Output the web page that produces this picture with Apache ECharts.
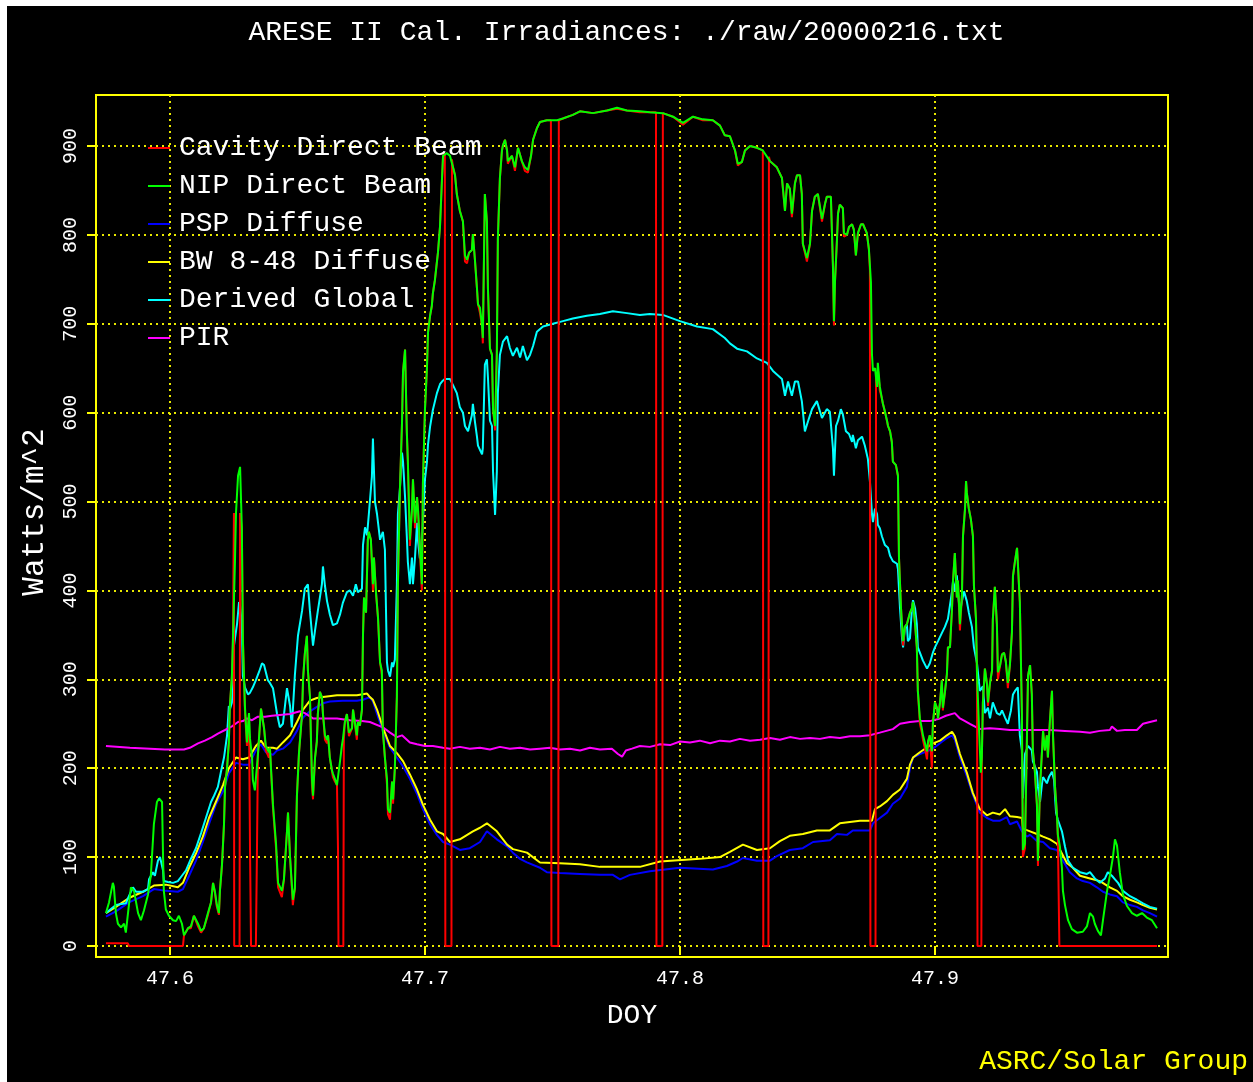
<!DOCTYPE html>
<html>
<head>
<meta charset="utf-8">
<title>ARESE II Cal. Irradiances</title>
<script src="https://cdn.jsdelivr.net/npm/echarts@6/dist/echarts.min.js"></script>
<style>
  html, body { margin: 0; padding: 0; background: #000; }
  #chart { width: 1253px; height: 1082px; }
</style>
</head>
<body>
<div id="chart"></div>
<script>
// Day-of-year tick marks and irradiance ticks (W/m^2)
const doyTicks = [47.6, 47.7, 47.8, 47.9];
const wattTicks = [0, 100, 200, 300, 400, 500, 600, 700, 800, 900];

const seriesNames = ['Cavity Direct Beam', 'NIP Direct Beam', 'PSP Diffuse', 'BW 8-48 Diffuse', 'Derived Global', 'PIR'];
const seriesColors = ['#ff0000', '#00ff00', '#0000ff', '#ffff00', '#00ffff', '#ff00ff'];

// [DOY, W/m^2]
const nipDirect = [
[47.5749,37],[47.5761,49],[47.5776,71],[47.5780,67],[47.5788,37],[47.5796,25],[47.5808,21],[47.5820,25],[47.5827,15],[47.5839,46],
[47.5847,66],[47.5859,62],[47.5875,37],[47.5886,29],[47.5898,40],[47.5914,58],[47.5925,79],[47.5937,137],[47.5949,162],[47.5957,166],
[47.5969,162],[47.5973,100],[47.5976,62],[47.5984,41],[47.5996,34],[47.6012,29],[47.6024,28],[47.6035,34],[47.6047,25],[47.6055,12],
[47.6071,20],[47.6082,22],[47.6094,34],[47.6110,25],[47.6122,17],[47.6133,20],[47.6149,37],[47.6161,49],[47.6169,71],[47.6176,62],
[47.6184,46],[47.6192,37],[47.6196,62],[47.6204,91],[47.6212,137],[47.6216,179],[47.6224,200],[47.6231,229],[47.6235,270],[47.6243,304],
[47.6247,345],[47.6255,433],[47.6259,487],[47.6267,529],[47.6275,539],[47.6282,470],[47.6286,345],[47.6294,270],[47.6302,229],[47.6310,262],
[47.6314,233],[47.6322,212],[47.6325,187],[47.6333,175],[47.6345,215],[47.6357,267],[47.6369,245],[47.6376,225],[47.6388,218],[47.6392,223],
[47.6404,159],[47.6416,115],[47.6424,71],[47.6439,62],[47.6447,75],[47.6459,129],[47.6463,150],[47.6471,100],[47.6482,52],[47.6490,65],
[47.6498,169],[47.6506,217],[47.6518,261],[47.6522,300],[47.6529,329],[47.6537,349],[47.6541,310],[47.6549,281],[47.6557,188],[47.6561,169],
[47.6569,212],[47.6576,230],[47.6580,261],[47.6588,286],[47.6596,280],[47.6600,261],[47.6608,237],[47.6616,232],[47.6620,237],[47.6627,212],
[47.6635,198],[47.6639,194],[47.6647,188],[47.6655,181],[47.6659,190],[47.6667,208],[47.6675,227],[47.6678,232],[47.6686,252],[47.6694,261],
[47.6702,240],[47.6714,245],[47.6718,266],[47.6725,252],[47.6733,237],[47.6737,252],[47.6745,248],[47.6753,266],[47.6757,349],[47.6761,392],
[47.6769,375],[47.6776,457],[47.6780,466],[47.6788,457],[47.6796,407],[47.6800,437],[47.6808,398],[47.6816,369],[47.6824,319],[47.6831,310],
[47.6835,242],[47.6843,212],[47.6851,188],[47.6855,154],[47.6863,150],[47.6871,185],[47.6875,165],[47.6882,200],[47.6890,281],[47.6894,407],
[47.6902,515],[47.6910,588],[47.6914,646],[47.6922,671],[47.6929,578],[47.6933,545],[47.6941,457],[47.6949,490],[47.6953,525],[47.6961,476],
[47.6969,505],[47.6973,490],[47.6980,451],[47.6988,407],[47.6992,520],[47.7000,603],[47.7008,651],[47.7012,690],[47.7020,709],[47.7027,720],
[47.7031,734],[47.7039,749],[47.7051,780],[47.7059,809],[47.7067,864],[47.7071,889],[47.7086,892],[47.7098,889],[47.7110,876],[47.7118,867],
[47.7125,846],[47.7137,827],[47.7149,815],[47.7157,777],[47.7165,772],[47.7173,780],[47.7184,783],[47.7188,801],[47.7196,772],[47.7204,740],
[47.7208,722],[47.7216,718],[47.7224,697],[47.7227,684],[47.7235,846],[47.7243,815],[47.7247,740],[47.7255,672],[47.7263,665],[47.7267,604],
[47.7275,585],[47.7282,667],[47.7286,796],[47.7294,864],[47.7302,895],[47.7306,901],[47.7314,907],[47.7322,895],[47.7325,883],[47.7341,889],
[47.7353,876],[47.7365,898],[47.7380,883],[47.7392,876],[47.7404,873],[47.7416,889],[47.7424,907],[47.7439,920],[47.7451,927],[47.7478,929],
[47.7518,929],[47.7541,931],[47.7580,935],[47.7608,939],[47.7659,937],[47.7714,940],[47.7753,943],[47.7792,940],[47.7843,939],[47.7882,938],
[47.7933,937],[47.7973,933],[47.8012,926],[47.8051,933],[47.8090,930],[47.8129,929],[47.8157,923],[47.8176,912],[47.8196,911],[47.8216,895],
[47.8227,880],[47.8243,882],[47.8255,895],[47.8275,900],[47.8302,898],[47.8325,895],[47.8353,883],[47.8380,876],[47.8400,864],[47.8412,827],
[47.8420,858],[47.8431,852],[47.8439,824],[47.8451,858],[47.8459,867],[47.8471,867],[47.8478,846],[47.8482,790],[47.8498,774],[47.8510,790],
[47.8518,827],[47.8529,843],[47.8541,846],[47.8557,818],[47.8569,835],[47.8576,843],[47.8592,843],[47.8600,765],[47.8604,703],[47.8608,747],
[47.8616,796],[47.8620,824],[47.8627,834],[47.8639,830],[47.8643,802],[47.8655,800],[47.8663,809],[47.8675,812],[47.8682,806],[47.8690,777],
[47.8698,802],[47.8710,812],[47.8718,812],[47.8733,802],[47.8741,784],[47.8749,747],[47.8753,666],[47.8757,647],[47.8765,650],[47.8773,629],
[47.8776,656],[47.8784,629],[47.8792,616],[47.8796,610],[47.8804,601],[47.8812,591],[47.8816,585],[47.8824,579],[47.8831,567],[47.8835,545],
[47.8847,541],[47.8855,529],[47.8859,437],[47.8867,380],[47.8875,343],[47.8882,359],[47.8890,362],[47.8902,375],[47.8910,380],[47.8914,387],
[47.8922,362],[47.8929,336],[47.8933,287],[47.8941,256],[47.8949,244],[47.8953,237],[47.8961,228],[47.8969,219],[47.8973,230],[47.8980,237],
[47.8988,219],[47.8992,250],[47.9000,274],[47.9008,268],[47.9012,256],[47.9020,274],[47.9027,299],[47.9031,268],[47.9039,285],[47.9047,306],
[47.9051,336],[47.9059,336],[47.9067,380],[47.9071,411],[47.9078,442],[47.9086,392],[47.9090,411],[47.9098,362],[47.9106,395],[47.9110,461],
[47.9118,492],[47.9122,523],[47.9125,510],[47.9133,492],[47.9141,480],[47.9149,461],[47.9153,405],[47.9161,368],[47.9165,306],[47.9173,244],
[47.9180,195],[47.9184,212],[47.9188,274],[47.9196,312],[47.9204,295],[47.9208,274],[47.9216,296],[47.9224,310],[47.9227,367],[47.9235,404],
[47.9243,362],[47.9247,308],[47.9255,315],[47.9263,328],[47.9271,330],[47.9278,320],[47.9286,296],[47.9294,316],[47.9302,353],[47.9306,416],
[47.9314,433],[47.9322,448],[47.9325,448],[47.9333,387],[47.9341,262],[47.9345,108],[47.9353,115],[47.9361,237],[47.9365,304],[47.9373,316],
[47.9380,283],[47.9384,220],[47.9392,196],[47.9400,159],[47.9404,96],[47.9412,179],[47.9420,220],[47.9424,242],[47.9431,220],[47.9439,237],
[47.9443,212],[47.9451,254],[47.9459,287],[47.9463,237],[47.9471,179],[47.9478,150],[47.9482,125],[47.9490,112],[47.9498,88],[47.9502,62],
[47.9510,46],[47.9522,29],[47.9537,19],[47.9557,15],[47.9580,16],[47.9596,22],[47.9608,37],[47.9620,33],[47.9627,25],[47.9639,17],
[47.9651,12],[47.9659,29],[47.9675,62],[47.9686,79],[47.9698,100],[47.9706,120],[47.9714,113],[47.9725,83],[47.9737,58],[47.9753,45],
[47.9773,37],[47.9792,34],[47.9812,37],[47.9831,32],[47.9851,29],[47.9871,20]
];

const cavityDirect = [
[47.5749,3],[47.5835,3],[47.5839,0],[47.6051,0],[47.6055,12],
[47.6071,20],[47.6082,20],[47.6094,34],[47.6110,22],[47.6122,15],[47.6133,20],[47.6149,35],[47.6161,49],[47.6169,71],[47.6176,60],
[47.6184,44],[47.6192,35],[47.6196,62],[47.6204,91],[47.6212,137],[47.6216,179],[47.6224,200],[47.6231,229],[47.6235,270],[47.6243,304],
[47.6247,345],[47.6251,487],[47.6252,0],[47.6273,0],[47.6275,487],[47.6282,470],[47.6286,345],[47.6294,265],[47.6302,225],[47.6310,262],
[47.6314,108],[47.6318,0],[47.6337,0],[47.6341,100],[47.6345,215],[47.6357,267],[47.6369,245],[47.6376,220],[47.6388,212],[47.6392,223],
[47.6404,155],[47.6416,110],[47.6424,66],[47.6439,55],[47.6447,75],[47.6459,129],[47.6463,150],[47.6471,100],[47.6482,46],[47.6490,65],
[47.6498,169],[47.6506,217],[47.6518,261],[47.6522,300],[47.6529,329],[47.6537,349],[47.6541,310],[47.6549,281],[47.6557,180],[47.6561,165],
[47.6569,212],[47.6576,230],[47.6580,261],[47.6588,286],[47.6596,280],[47.6600,261],[47.6608,232],[47.6616,228],[47.6620,237],[47.6627,212],
[47.6635,198],[47.6639,190],[47.6647,185],[47.6655,181],[47.6659,110],[47.6661,0],[47.6680,0],[47.6682,232],[47.6686,252],[47.6694,261],
[47.6702,236],[47.6714,245],[47.6718,266],[47.6725,250],[47.6733,232],[47.6737,252],[47.6745,248],[47.6753,266],[47.6757,349],[47.6761,392],
[47.6769,375],[47.6776,457],[47.6780,466],[47.6788,457],[47.6796,400],[47.6800,437],[47.6808,398],[47.6816,369],[47.6824,319],[47.6831,305],
[47.6835,242],[47.6843,212],[47.6851,182],[47.6855,148],[47.6863,142],[47.6871,185],[47.6875,160],[47.6882,200],[47.6890,281],[47.6894,407],
[47.6902,515],[47.6910,588],[47.6914,646],[47.6922,671],[47.6929,578],[47.6933,545],[47.6941,450],[47.6949,490],[47.6953,525],[47.6961,470],
[47.6969,505],[47.6973,490],[47.6980,445],[47.6988,400],[47.6992,520],[47.7000,603],[47.7008,651],[47.7012,690],[47.7020,709],[47.7027,720],
[47.7031,734],[47.7039,749],[47.7051,780],[47.7059,809],[47.7067,864],[47.7071,889],[47.7078,892],[47.7080,0],[47.7104,0],[47.7106,885],
[47.7110,876],[47.7118,867],[47.7125,846],[47.7137,827],[47.7149,815],[47.7157,770],[47.7165,768],[47.7173,780],[47.7184,783],[47.7188,801],
[47.7196,772],[47.7204,740],[47.7208,722],[47.7216,712],[47.7224,697],[47.7227,678],[47.7235,846],[47.7243,815],[47.7247,740],[47.7255,672],
[47.7263,665],[47.7267,604],[47.7275,580],[47.7282,667],[47.7286,796],[47.7294,864],[47.7302,895],[47.7306,901],[47.7314,907],[47.7322,895],
[47.7325,880],[47.7341,889],[47.7353,872],[47.7365,898],[47.7380,883],[47.7392,872],[47.7404,870],[47.7416,889],[47.7424,907],[47.7439,920],
[47.7451,927],[47.7478,929],[47.7494,929],[47.7496,0],[47.7523,0],[47.7525,929],[47.7541,931],[47.7580,935],[47.7608,939],[47.7659,937],
[47.7714,940],[47.7753,942],[47.7792,940],[47.7843,938],[47.7882,938],[47.7906,938],[47.7908,0],[47.7931,0],[47.7933,937],[47.7973,933],
[47.8012,924],[47.8051,933],[47.8090,929],[47.8129,929],[47.8157,923],[47.8176,912],[47.8196,911],[47.8216,895],[47.8227,878],[47.8243,882],
[47.8255,895],[47.8275,900],[47.8302,898],[47.8325,895],[47.8327,0],[47.8347,0],[47.8349,888],[47.8353,883],[47.8380,876],[47.8400,864],
[47.8412,827],[47.8420,858],[47.8431,852],[47.8439,820],[47.8451,858],[47.8459,867],[47.8471,867],[47.8478,846],[47.8482,790],[47.8498,770],
[47.8510,790],[47.8518,827],[47.8529,843],[47.8541,846],[47.8557,815],[47.8569,835],[47.8576,843],[47.8592,843],[47.8600,765],[47.8604,698],
[47.8608,747],[47.8616,796],[47.8620,824],[47.8627,834],[47.8639,830],[47.8643,798],[47.8655,800],[47.8663,809],[47.8675,812],[47.8682,806],
[47.8690,777],[47.8698,802],[47.8710,812],[47.8718,812],[47.8733,802],[47.8741,784],[47.8745,760],[47.8747,0],[47.8767,0],[47.8769,640],
[47.8773,629],[47.8776,650],[47.8784,625],[47.8792,616],[47.8796,610],[47.8804,601],[47.8812,591],[47.8816,585],[47.8824,579],[47.8831,567],
[47.8835,545],[47.8847,541],[47.8855,529],[47.8859,437],[47.8867,380],[47.8875,338],[47.8882,359],[47.8890,362],[47.8902,375],[47.8910,380],
[47.8914,387],[47.8922,362],[47.8929,336],[47.8933,287],[47.8941,250],[47.8949,240],[47.8953,232],[47.8961,222],[47.8969,210],[47.8973,230],
[47.8980,237],[47.8988,200],[47.8992,250],[47.9000,274],[47.9008,268],[47.9012,256],[47.9020,274],[47.9027,299],[47.9031,265],[47.9039,285],
[47.9047,306],[47.9051,336],[47.9059,336],[47.9067,380],[47.9071,411],[47.9078,442],[47.9086,392],[47.9090,411],[47.9098,355],[47.9106,395],
[47.9110,461],[47.9118,492],[47.9122,523],[47.9125,510],[47.9133,492],[47.9141,480],[47.9149,461],[47.9153,405],[47.9161,368],[47.9165,306],
[47.9167,0],[47.9182,0],[47.9184,212],[47.9188,274],[47.9196,312],[47.9204,295],[47.9208,270],[47.9216,296],[47.9224,310],[47.9227,367],
[47.9235,404],[47.9243,362],[47.9247,300],[47.9255,315],[47.9263,328],[47.9271,330],[47.9278,320],[47.9286,290],[47.9294,316],[47.9302,353],
[47.9306,416],[47.9314,433],[47.9322,448],[47.9325,448],[47.9333,387],[47.9341,262],[47.9345,100],[47.9353,110],[47.9361,237],[47.9365,304],
[47.9373,316],[47.9380,283],[47.9384,220],[47.9392,196],[47.9400,159],[47.9404,90],[47.9412,179],[47.9420,220],[47.9424,242],[47.9431,220],
[47.9439,237],[47.9443,212],[47.9451,254],[47.9459,287],[47.9463,237],[47.9471,179],[47.9478,150],[47.9482,125],[47.9488,0],[47.9871,0]
];

const pspDiffuse = [
[47.5749,33],[47.5788,39],[47.5839,49],[47.5894,56],[47.5937,64],[47.5984,62],[47.6031,61],[47.6051,64],[47.6075,79],[47.6102,96],
[47.6129,117],[47.6153,137],[47.6180,159],[47.6208,174],[47.6231,194],[47.6259,206],[47.6286,204],[47.6310,204],[47.6337,220],[47.6357,227],
[47.6376,218],[47.6404,215],[47.6420,220],[47.6443,222],[47.6471,229],[47.6498,242],[47.6522,257],[47.6549,264],[47.6576,269],[47.6600,273],
[47.6627,275],[47.6678,276],[47.6733,276],[47.6757,277],[47.6784,280],[47.6796,275],[47.6812,261],[47.6835,242],[47.6863,223],[47.6890,212],
[47.6914,202],[47.6941,188],[47.6969,171],[47.6992,154],[47.7020,137],[47.7047,125],[47.7071,117],[47.7098,114],[47.7137,108],[47.7176,110],
[47.7216,117],[47.7243,129],[47.7282,120],[47.7322,112],[47.7345,105],[47.7373,98],[47.7400,94],[47.7451,88],[47.7478,83],[47.7529,82],
[47.7608,81],[47.7686,80],[47.7737,80],[47.7765,75],[47.7804,80],[47.7882,84],[47.8000,88],[47.8129,86],[47.8184,90],[47.8224,95],
[47.8247,99],[47.8302,96],[47.8353,96],[47.8380,101],[47.8431,108],[47.8482,110],[47.8522,117],[47.8588,119],[47.8616,126],[47.8655,125],
[47.8678,130],[47.8745,130],[47.8757,138],[47.8784,144],[47.8812,150],[47.8835,160],[47.8863,166],[47.8890,179],[47.8902,200],[47.8914,212],
[47.8941,216],[47.8969,219],[47.8992,222],[47.9020,228],[47.9047,234],[47.9067,237],[47.9078,232],[47.9098,212],[47.9125,191],[47.9149,170],
[47.9176,150],[47.9204,144],[47.9227,141],[47.9255,141],[47.9282,145],[47.9294,137],[47.9322,140],[47.9341,129],[47.9361,123],[47.9373,125],
[47.9400,118],[47.9424,117],[47.9451,110],[47.9478,108],[47.9502,96],[47.9529,83],[47.9557,76],[47.9580,73],[47.9608,71],[47.9635,66],
[47.9659,61],[47.9686,58],[47.9714,56],[47.9737,49],[47.9765,46],[47.9792,44],[47.9816,40],[47.9843,37],[47.9871,33]
];

const bwDiffuse = [
[47.5749,37],[47.5788,44],[47.5839,54],[47.5894,61],[47.5937,68],[47.5984,69],[47.6031,66],[47.6051,71],[47.6075,88],[47.6102,104],
[47.6129,123],[47.6153,144],[47.6180,162],[47.6208,181],[47.6231,200],[47.6259,212],[47.6286,210],[47.6310,212],[47.6337,225],[47.6357,231],
[47.6376,223],[47.6404,223],[47.6420,222],[47.6443,229],[47.6471,237],[47.6498,252],[47.6522,266],[47.6549,276],[47.6576,279],[47.6600,280],
[47.6655,282],[47.6694,282],[47.6733,282],[47.6773,284],[47.6784,280],[47.6796,277],[47.6812,266],[47.6835,246],[47.6863,225],[47.6890,217],
[47.6914,208],[47.6941,193],[47.6969,176],[47.6992,159],[47.7020,142],[47.7047,129],[47.7071,126],[47.7098,117],[47.7137,120],[47.7188,129],
[47.7216,133],[47.7243,138],[47.7282,129],[47.7322,114],[47.7345,109],[47.7400,105],[47.7451,94],[47.7529,93],[47.7608,92],[47.7686,89],
[47.7843,89],[47.7922,95],[47.8078,98],[47.8157,100],[47.8196,106],[47.8247,114],[47.8302,108],[47.8353,110],[47.8392,118],[47.8431,124],
[47.8482,126],[47.8537,130],[47.8588,130],[47.8627,138],[47.8706,141],[47.8753,141],[47.8765,154],[47.8784,157],[47.8812,163],[47.8835,170],
[47.8863,176],[47.8890,188],[47.8902,204],[47.8914,212],[47.8941,218],[47.8992,228],[47.9020,231],[47.9047,237],[47.9067,241],[47.9078,236],
[47.9098,216],[47.9125,195],[47.9149,172],[47.9176,154],[47.9204,147],[47.9227,150],[47.9255,148],[47.9275,154],[47.9294,146],[47.9322,145],
[47.9341,144],[47.9345,132],[47.9373,129],[47.9400,126],[47.9424,123],[47.9451,120],[47.9478,115],[47.9498,104],[47.9518,93],[47.9541,88],
[47.9569,79],[47.9608,76],[47.9647,73],[47.9686,66],[47.9714,62],[47.9737,56],[47.9765,52],[47.9792,49],[47.9816,46],[47.9843,43],
[47.9871,41]
];

const derivedGlobal = [
[47.5749,37],[47.5788,46],[47.5827,48],[47.5839,56],[47.5855,66],[47.5867,61],[47.5894,61],[47.5914,64],[47.5918,75],[47.5933,83],
[47.5941,79],[47.5953,96],[47.5961,100],[47.5973,85],[47.5976,73],[47.5992,72],[47.6012,71],[47.6031,73],[47.6047,79],[47.6063,85],
[47.6082,98],[47.6102,110],[47.6122,127],[47.6141,144],[47.6161,162],[47.6173,169],[47.6188,179],[47.6200,196],[47.6212,212],[47.6224,237],
[47.6231,270],[47.6235,266],[47.6243,274],[47.6251,338],[47.6263,362],[47.6271,387],[47.6275,383],[47.6282,362],[47.6286,304],[47.6294,291],
[47.6306,283],[47.6314,285],[47.6325,291],[47.6337,299],[47.6349,308],[47.6361,318],[47.6369,316],[47.6384,299],[47.6392,296],[47.6404,290],
[47.6420,261],[47.6431,246],[47.6443,250],[47.6459,290],[47.6471,270],[47.6478,246],[47.6490,305],[47.6502,349],[47.6518,377],[47.6529,402],
[47.6541,407],[47.6549,377],[47.6561,338],[47.6569,355],[47.6580,377],[47.6596,407],[47.6600,427],[47.6608,405],[47.6616,388],[47.6627,373],
[47.6639,361],[47.6655,363],[47.6667,373],[47.6678,386],[47.6694,398],[47.6706,400],[47.6718,394],[47.6729,407],[47.6737,398],[47.6753,402],
[47.6757,451],[47.6765,471],[47.6773,462],[47.6780,486],[47.6792,528],[47.6796,571],[47.6804,500],[47.6812,486],[47.6824,457],[47.6835,466],
[47.6843,446],[47.6851,319],[47.6855,310],[47.6863,303],[47.6871,319],[47.6875,314],[47.6882,322],[47.6890,407],[47.6894,486],[47.6902,515],
[47.6910,555],[47.6914,545],[47.6922,505],[47.6929,460],[47.6933,432],[47.6941,407],[47.6949,437],[47.6953,407],[47.6961,437],[47.6969,476],
[47.6973,455],[47.6980,436],[47.6988,458],[47.6992,476],[47.7000,525],[47.7008,545],[47.7012,564],[47.7020,584],[47.7031,603],[47.7047,622],
[47.7059,632],[47.7067,635],[47.7078,638],[47.7098,638],[47.7110,631],[47.7125,622],[47.7137,606],[47.7149,600],[47.7157,585],[47.7169,579],
[47.7184,597],[47.7188,610],[47.7196,590],[47.7204,573],[47.7208,563],[47.7224,553],[47.7227,560],[47.7235,654],[47.7243,660],[47.7247,640],
[47.7255,591],[47.7263,585],[47.7267,534],[47.7275,485],[47.7282,534],[47.7286,622],[47.7294,665],[47.7306,680],[47.7322,686],[47.7333,673],
[47.7345,664],[47.7361,673],[47.7373,662],[47.7384,675],[47.7400,659],[47.7412,665],[47.7424,675],[47.7439,691],[47.7463,697],[47.7502,700],
[47.7541,703],[47.7580,706],[47.7635,709],[47.7686,711],[47.7737,714],[47.7792,712],[47.7843,710],[47.7882,711],[47.7933,710],[47.8000,703],
[47.8067,697],[47.8129,694],[47.8176,684],[47.8196,678],[47.8224,672],[47.8263,669],[47.8302,661],[47.8341,656],[47.8365,647],[47.8400,638],
[47.8412,619],[47.8424,635],[47.8439,619],[47.8451,635],[47.8463,635],[47.8478,613],[47.8490,579],[47.8502,590],[47.8518,604],[47.8537,613],
[47.8557,594],[47.8576,604],[47.8588,601],[47.8600,560],[47.8604,529],[47.8612,585],[47.8620,591],[47.8631,604],[47.8639,598],[47.8651,579],
[47.8663,576],[47.8675,567],[47.8678,575],[47.8690,560],[47.8698,569],[47.8714,573],[47.8725,563],[47.8737,548],[47.8745,523],[47.8753,486],
[47.8757,477],[47.8765,492],[47.8773,486],[47.8776,474],[47.8784,470],[47.8792,461],[47.8804,451],[47.8816,448],[47.8824,439],[47.8835,433],
[47.8851,430],[47.8855,424],[47.8863,380],[47.8871,346],[47.8875,336],[47.8882,357],[47.8890,362],[47.8894,343],[47.8902,346],[47.8910,380],
[47.8914,389],[47.8922,380],[47.8929,362],[47.8933,336],[47.8941,330],[47.8953,321],[47.8969,312],[47.8980,318],[47.8992,330],[47.9000,336],
[47.9012,343],[47.9027,352],[47.9039,359],[47.9051,368],[47.9067,399],[47.9071,411],[47.9078,399],[47.9086,417],[47.9090,399],[47.9098,375],
[47.9106,388],[47.9114,399],[47.9125,388],[47.9133,375],[47.9145,359],[47.9153,336],[47.9165,318],[47.9176,287],[47.9188,292],[47.9196,262],
[47.9208,268],[47.9216,256],[47.9227,274],[47.9243,262],[47.9255,260],[47.9263,265],[47.9275,257],[47.9286,250],[47.9298,265],[47.9306,283],
[47.9314,287],[47.9325,291],[47.9333,237],[47.9341,220],[47.9345,166],[47.9353,216],[47.9365,225],[47.9380,220],[47.9384,208],[47.9400,196],
[47.9404,179],[47.9412,162],[47.9420,183],[47.9424,190],[47.9439,183],[47.9447,190],[47.9459,196],[47.9467,187],[47.9475,150],[47.9482,142],
[47.9498,129],[47.9510,112],[47.9522,96],[47.9541,88],[47.9569,83],[47.9596,81],[47.9608,83],[47.9627,76],[47.9647,71],[47.9667,76],
[47.9678,83],[47.9694,79],[47.9706,75],[47.9718,71],[47.9737,62],[47.9765,56],[47.9792,52],[47.9816,48],[47.9843,44],[47.9871,42]
];

const pir = [
[47.5749,225],[47.5843,223],[47.5922,222],[47.5980,221],[47.6055,221],[47.6078,223],[47.6110,228],[47.6137,231],[47.6165,235],[47.6188,239],
[47.6216,243],[47.6243,247],[47.6267,252],[47.6286,253],[47.6302,256],[47.6322,254],[47.6345,258],[47.6373,258],[47.6400,259],[47.6471,261],
[47.6510,264],[47.6529,262],[47.6561,256],[47.6600,256],[47.6655,256],[47.6706,254],[47.6753,253],[47.6784,252],[47.6835,246],[47.6863,240],
[47.6890,235],[47.6910,237],[47.6941,229],[47.6969,227],[47.7000,225],[47.7031,225],[47.7071,223],[47.7098,222],[47.7137,224],[47.7176,222],
[47.7216,223],[47.7255,221],[47.7294,224],[47.7333,222],[47.7373,223],[47.7412,221],[47.7451,222],[47.7490,223],[47.7529,221],[47.7569,222],
[47.7608,220],[47.7647,223],[47.7686,221],[47.7733,222],[47.7757,216],[47.7773,213],[47.7788,220],[47.7812,222],[47.7843,225],[47.7882,224],
[47.7922,227],[47.7961,226],[47.8000,230],[47.8039,229],[47.8078,231],[47.8118,228],[47.8157,231],[47.8196,230],[47.8235,233],[47.8275,231],
[47.8314,232],[47.8353,234],[47.8392,232],[47.8431,235],[47.8471,233],[47.8510,234],[47.8549,233],[47.8588,235],[47.8627,234],[47.8667,236],
[47.8706,236],[47.8745,237],[47.8784,240],[47.8835,244],[47.8863,250],[47.8902,252],[47.8941,253],[47.8980,253],[47.9020,256],[47.9043,259],
[47.9078,262],[47.9098,256],[47.9118,253],[47.9137,250],[47.9176,244],[47.9216,245],[47.9255,244],[47.9294,243],[47.9333,243],[47.9373,243],
[47.9412,243],[47.9451,243],[47.9510,242],[47.9569,241],[47.9608,240],[47.9647,242],[47.9686,243],[47.9694,247],[47.9714,242],[47.9745,243],
[47.9792,243],[47.9816,250],[47.9843,252],[47.9871,254]
];

const FONT = '"Liberation Mono", "DejaVu Sans Mono", monospace';
const YELLOW = '#ffff00';
const GRID_DOT = '#e8e800';

const dataByName = {
  'Cavity Direct Beam': cavityDirect,
  'NIP Direct Beam': nipDirect,
  'PSP Diffuse': pspDiffuse,
  'BW 8-48 Diffuse': bwDiffuse,
  'Derived Global': derivedGlobal,
  'PIR': pir
};

// draw order: diffuse and global first, the two direct-beam traces on top
const drawOrder = ['PSP Diffuse', 'BW 8-48 Diffuse', 'Derived Global', 'PIR', 'Cavity Direct Beam', 'NIP Direct Beam'];

const series = drawOrder.map(function (name) {
  const color = seriesColors[seriesNames.indexOf(name)];
  return {
    name: name,
    type: 'line',
    data: dataByName[name],
    showSymbol: false,
    symbol: 'none',
    color: color,
    lineStyle: { color: color, width: 2 },
    emphasis: { disabled: true },
    animation: false
  };
});

const chart = echarts.init(document.getElementById('chart'), null, { renderer: 'canvas' });

chart.setOption({
  backgroundColor: '#000000',
  animation: false,
  textStyle: { fontFamily: FONT },
  title: [
    {
      text: 'ARESE II Cal. Irradiances: ./raw/20000216.txt',
      left: 'center',
      top: 14,
      textStyle: { color: '#ffffff', fontFamily: FONT, fontSize: 28, fontWeight: 'normal' }
    },
    {
      text: 'ASRC/Solar Group',
      right: 0,
      top: 1043,
      textStyle: { color: YELLOW, fontFamily: FONT, fontSize: 28, fontWeight: 'normal' }
    }
  ],
  legend: {
    data: seriesNames,
    orient: 'vertical',
    left: 148,
    top: 133,
    padding: 0,
    itemGap: 8,
    itemWidth: 22,
    itemHeight: 2,
    icon: 'rect',
    selectedMode: false,
    textStyle: {
      color: '#ffffff', fontFamily: FONT, fontSize: 28, lineHeight: 30,
      padding: [0, 0, 0, 4]
    }
  },
  graphic: [
    { type: 'rect', left: 0, top: 0, shape: { width: 7, height: 1082 }, style: { fill: '#ffffff' }, silent: true },
    { type: 'rect', left: 0, top: 0, shape: { width: 1253, height: 6 }, style: { fill: '#ffffff' }, silent: true }
  ],
  grid: {
    left: 96, top: 95, width: 1072, height: 862,
    show: true, borderColor: YELLOW, borderWidth: 2, backgroundColor: 'transparent',
    containLabel: false
  },
  xAxis: {
    type: 'value',
    min: 47.571,
    max: 47.9914,
    name: 'DOY',
    nameLocation: 'middle',
    nameGap: 45,
    nameTextStyle: { color: '#ffffff', fontFamily: FONT, fontSize: 28 },
    axisLine: { show: false },
    axisTick: { show: true, length: 9, lineStyle: { color: YELLOW, width: 2 }, customValues: doyTicks },
    axisLabel: {
      show: true, margin: 12, color: '#ffffff', fontFamily: FONT, fontSize: 20,
      customValues: doyTicks,
      formatter: function (v) { return v.toFixed(1); }
    },
    splitLine: {
      show: true,
      lineStyle: { color: GRID_DOT, width: 2, type: [2, 4] }
    }
  },
  yAxis: {
    type: 'value',
    min: -12.4,
    max: 957.4,
    name: 'Watts/m^2',
    nameLocation: 'middle',
    nameGap: 46,
    nameRotate: 90,
    nameTextStyle: { color: '#ffffff', fontFamily: FONT, fontSize: 31, padding: [0, 0, 0, 28] },
    axisLine: { show: false },
    axisTick: { show: true, length: 9, lineStyle: { color: YELLOW, width: 2 }, customValues: wattTicks },
    axisLabel: {
      show: true, margin: 15, rotate: 90, color: '#ffffff', fontFamily: FONT, fontSize: 20,
      customValues: wattTicks
    },
    splitLine: {
      show: true,
      lineStyle: { color: GRID_DOT, width: 2, type: [2, 4] }
    }
  },
  series: series
});
</script>
</body>
</html>
